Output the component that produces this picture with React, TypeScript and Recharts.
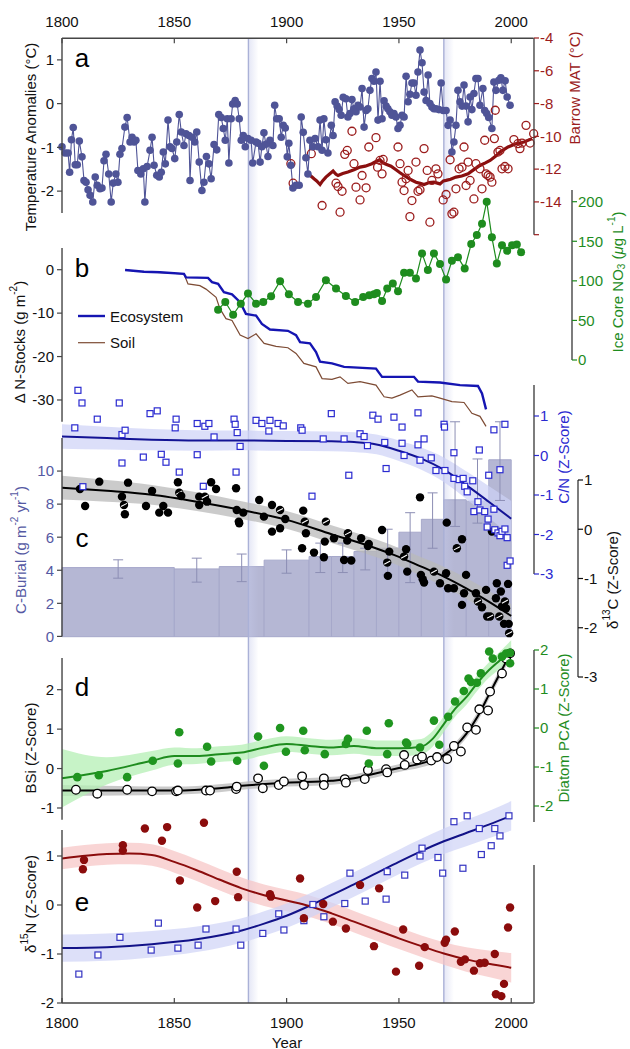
import React from 'react';
import {
  Area, ComposedChart, ErrorBar, Line, ReferenceArea, ReferenceLine, Scatter, XAxis, YAxis,
} from 'recharts';

const W = 630;
const H = 1049;
const FONT = '"Liberation Sans", Arial, Helvetica, sans-serif';

// ---------- data ----------
// (a) temperature anomalies, year / degC
const TEMP: [number, number][] = [
  [1800.0, -0.98], [1801.4, -1.12], [1802.7, -1.12], [1803.4, -1.56], [1804.2, -0.82], [1805.0, -0.54], [1805.9, -1.39], [1806.8, -1.39], [1807.7, -0.85], [1808.9, -1.21],
  [1809.8, -1.75], [1810.7, -1.79], [1811.6, -1.96], [1812.5, -2.09], [1813.7, -2.24], [1814.8, -1.67], [1815.7, -1.86], [1816.9, -1.94], [1817.8, -1.92], [1818.7, -1.3],
  [1819.6, -1.15], [1820.8, -1.6], [1821.9, -2.24], [1822.8, -1.81], [1824.0, -1.6], [1824.9, -1.79], [1825.8, -1.15], [1826.7, -1.02], [1828.0, -0.53], [1829.0, -0.31],
  [1830.3, -0.87], [1831.2, -0.76], [1832.1, -0.87], [1832.9, -0.83], [1833.8, -1.52], [1835.1, -1.6], [1836.2, -1.48], [1836.9, -2.24], [1837.9, -1.43], [1839.2, -1.06],
  [1840.1, -0.76], [1841.0, -1.4], [1842.2, -1.63], [1843.3, -1.67], [1844.2, -1.56], [1845.1, -1.1], [1846.0, -1.37], [1847.2, -0.37], [1848.1, -0.98], [1849.0, -1.02],
  [1850.2, -1.25], [1851.1, -0.87], [1852.2, -0.24], [1853.1, -0.64], [1854.3, -0.95], [1855.2, -0.68], [1856.5, -0.72], [1857.0, -1.75], [1857.9, -0.76], [1859.1, -0.87],
  [1860.0, -0.64], [1861.1, -1.33], [1862.3, -1.98], [1863.2, -1.79], [1864.3, -1.2], [1865.4, -1.37], [1866.4, -1.71], [1867.7, -0.93], [1868.9, -1.05], [1869.8, -0.24],
  [1870.9, -0.31], [1871.8, -0.56], [1872.7, -0.83], [1873.6, -0.34], [1874.3, -1.35], [1875.3, -0.34], [1876.0, 0], [1877.1, 0.08], [1878.0, 0], [1878.9, -0.34],
  [1879.8, -0.83], [1880.7, -0.72], [1881.6, -0.98], [1882.8, -0.79], [1884.2, -0.83], [1884.9, -1.35], [1886.4, -0.87], [1887.3, -0.9], [1888.2, -1.33], [1889.0, -0.98],
  [1889.9, -0.66], [1890.8, -0.92], [1891.7, -1.2], [1892.6, -0.83], [1893.9, -0.95], [1894.7, -0.03], [1895.6, -0.34], [1896.7, -0.34], [1897.6, -0.76], [1898.5, -0.49],
  [1899.4, -0.55], [1900.3, -1.21], [1901.0, -0.9], [1901.9, -1.4], [1902.8, -1.92], [1904.2, -1.86], [1905.6, -1.86], [1906.5, -0.3], [1907.4, -0.65], [1908.6, -1.23],
  [1909.5, -1.6], [1910.4, -0.83], [1911.7, -0.98], [1912.7, -0.79], [1914.0, -0.98], [1914.9, -0.37], [1915.8, -1.06], [1916.6, -0.34], [1917.5, -0.82], [1918.4, -1.12],
  [1919.9, -0.49], [1920.7, -0.72], [1921.6, 0.05], [1922.5, -0.05], [1923.4, -0.13], [1924.3, -0.26], [1925.2, 0.15], [1926.4, 0.12], [1927.3, -0.3], [1928.2, -0.22],
  [1929.1, 0.1], [1930.0, -0.11], [1930.9, -0.18], [1931.8, -0.03], [1932.7, -0.07], [1933.6, 0.35], [1934.5, -0.53], [1935.4, -0.15], [1936.2, -0.11], [1937.1, 0.31],
  [1938.0, 0.58], [1938.9, 0.52], [1939.8, 0.73], [1940.7, -0.37], [1941.6, 0.52], [1942.5, -0.34], [1943.4, 0.07], [1944.3, -0.05], [1945.1, -0.11], [1946.0, -0.18],
  [1946.9, -0.26], [1947.8, -0.22], [1948.7, -0.3], [1949.6, -0.56], [1950.5, -0.49], [1951.4, -0.26], [1952.3, -0.3], [1953.2, 0.63], [1954.1, 0.05], [1954.9, 0.22],
  [1955.8, 0.48], [1956.7, 0.48], [1957.6, 0.2], [1958.5, 0.73], [1959.4, 1.23], [1960.3, 0.94], [1961.2, 0.27], [1962.1, 0.08], [1963.0, 0.66], [1963.8, 0.01],
  [1964.7, -0.07], [1965.6, -0.11], [1966.5, -0.11], [1967.8, -0.13], [1968.8, 0.48], [1969.7, -0.15], [1971.0, -0.15], [1971.9, -0.49], [1972.8, -0.37], [1973.6, -1.1],
  [1974.5, -0.87], [1975.4, -0.49], [1976.3, 0.31], [1977.2, 0.05], [1978.1, -0.05], [1979.0, 0.43], [1979.9, -0.05], [1980.8, -0.41], [1981.7, 0.16], [1982.5, -0.13],
  [1983.4, 0.24], [1984.3, 0.58], [1985.2, 0.58], [1986.1, -0.03], [1987.4, 0.35], [1988.2, -0.15], [1989.1, -0.22], [1990.0, -0.31], [1991.4, -0.56], [1992.3, 0.5],
  [1993.2, 0.31], [1994.5, 0.54], [1995.4, 0.6], [1996.3, 0.31], [1997.3, 0.53], [1998.2, 0.16], [1999.5, -0.03],
];

// (a) Barrow mean annual temperature, single years and running mean
const BARROW: [number, number][] = [
  [1901.9, -11.65], [1902.9, -12.84], [1911.0, -11.04], [1915.8, -14.2], [1922.0, -12.84], [1922.9, -13.04], [1923.8, -14.61], [1924.7, -13.33], [1925.9, -11.08], [1927.0, -10.84],
  [1929.1, -9.67], [1930.0, -11.65], [1930.9, -13.08], [1932.7, -13.86], [1933.6, -12.37], [1935.4, -13.12], [1936.6, -10.63], [1939.8, -10.06], [1940.5, -11.86], [1941.6, -11.45],
  [1942.5, -12.27], [1943.0, -11.39], [1949.6, -10.63], [1950.5, -11.65], [1951.4, -12.78], [1952.3, -13.29], [1953.2, -12.57], [1954.1, -12.06], [1954.9, -14.88], [1955.8, -13.9],
  [1957.6, -11.55], [1958.5, -13.33], [1959.4, -13.24], [1961.2, -10.73], [1962.6, -12.06], [1963.8, -15.22], [1964.7, -12.67], [1966.5, -11.96], [1967.4, -12.27], [1969.7, -13.86],
  [1971.0, -13.53], [1972.8, -11.41], [1973.6, -14.71], [1974.5, -14.61], [1975.4, -13.18], [1976.8, -11.96], [1978.1, -11.86], [1979.0, -10.63], [1979.9, -12.98], [1980.8, -11.55],
  [1981.7, -12.67], [1983.4, -13.8], [1984.3, -11.65], [1986.1, -11.96], [1987.0, -13.18], [1988.2, -10.22], [1988.8, -12.27], [1989.7, -12.37], [1990.6, -12.47], [1991.4, -12.78],
  [1992.5, -10.12], [1992.9, -8.39], [1994.1, -10.94], [1995.0, -10.84], [1995.9, -11.96], [1997.2, -11.82], [1998.6, -11.96], [2001.2, -10.18], [2003.0, -10.43], [2003.9, -10.73],
  [2004.8, -10.39], [2006.6, -9.31], [2008.4, -10.39], [2010.0, -9.82],
];
const BARROW_MEAN: [number, number][] = [
  [1909.9, -12.31], [1911.2, -12.45], [1912.2, -12.57], [1913.4, -12.7], [1914.9, -12.92], [1916.0, -12.7], [1917.5, -12.47], [1919.0, -12.3], [1920.7, -12.1], [1922.0, -12.3],
  [1922.9, -12.37], [1925.0, -12.25], [1927.3, -12.16], [1930.0, -12.02], [1932.7, -11.86], [1935.0, -11.8], [1938.0, -11.65], [1940.0, -11.5], [1941.6, -11.41], [1943.0, -11.6],
  [1944.3, -11.69], [1946.5, -11.8], [1948.7, -12.02], [1950.5, -12.2], [1952.3, -12.37], [1955.0, -12.6], [1957.6, -12.78], [1959.5, -12.85], [1961.2, -12.92], [1963.5, -12.8],
  [1965.6, -12.78], [1968.3, -12.88], [1969.8, -12.7], [1971.0, -12.67], [1973.0, -12.6], [1975.4, -12.47], [1978.0, -12.4], [1980.8, -12.27], [1983.5, -12.0], [1986.1, -11.76],
  [1988.5, -11.6], [1990.6, -11.45], [1993.0, -11.2], [1995.0, -10.94], [1998.6, -10.63], [2002.1, -10.43], [2005.7, -10.33], [2009.3, -10.12],
];

// (b) cumulative N-stock change and ice core nitrate
const ECOSYSTEM: [number, number][] = [
  [1828.1, 0], [1836.5, -0.4], [1843.6, -0.5], [1854.3, -0.9], [1855.2, -1.7], [1865.0, -1.8], [1866.8, -2.8], [1869.5, -3.2], [1872.1, -5.1], [1875.7, -5.6],
  [1879.3, -7.4], [1881.9, -10.1], [1886.4, -10.5], [1889.0, -12.4], [1892.6, -13.7], [1900.6, -14.0], [1904.2, -15.0], [1906.0, -16.6], [1910.4, -16.9], [1913.1, -18.9],
  [1914.9, -21.1], [1920.2, -21.5], [1925.6, -22.3], [1939.8, -22.7], [1942.5, -24.6], [1956.7, -24.6], [1958.5, -25.7], [1968.3, -25.9], [1977.2, -26.5], [1985.2, -26.7],
  [1987.0, -28.4], [1988.8, -32.1],
];
const SOIL: [number, number][] = [
  [1828.1, 0], [1836.5, -0.4], [1854.3, -0.9], [1856.1, -3.2], [1861.4, -3.6], [1864.1, -4.4], [1868.6, -6.3], [1870.3, -8.9], [1873.0, -11.2], [1875.7, -11.6],
  [1879.3, -15.0], [1882.8, -15.8], [1886.4, -14.7], [1890.0, -16.9], [1895.3, -17.6], [1900.6, -17.9], [1904.2, -19.2], [1907.7, -21.5], [1913.1, -22.3], [1915.8, -25.0],
  [1920.2, -25.2], [1923.8, -24.6], [1927.3, -26.1], [1932.7, -25.7], [1939.8, -26.5], [1943.4, -29.2], [1946.9, -29.5], [1950.5, -28.8], [1955.8, -27.6], [1958.5, -29.2],
  [1964.7, -29.0], [1968.3, -29.5], [1973.6, -30.3], [1979.0, -30.5], [1982.5, -33.0], [1986.1, -33.7], [1988.8, -36.0],
];
const ICE_NO3: [number, number][] = [
  [1869.5, 63.6], [1872.7, 73.3], [1876.2, 57.2], [1879.6, 71.2], [1882.8, 83.9], [1886.4, 71.2], [1889.6, 73.3], [1893.1, 80.5], [1897.1, 99.6], [1901.0, 83],
  [1905.1, 73.3], [1909.5, 71.2], [1913.1, 79.7], [1917.5, 100.8], [1922.0, 90.3], [1926.4, 80.9], [1930.5, 73.3], [1934.1, 79.7], [1936.8, 81.8], [1938.9, 83],
  [1940.2, 84.7], [1942.5, 74.6], [1944.8, 90.3], [1947.3, 96.6], [1949.6, 86.9], [1952.3, 110.2], [1954.9, 110.2], [1957.6, 103], [1960.3, 134.7], [1962.9, 113.6],
  [1965.6, 134.7], [1968.3, 121.2], [1971.0, 101.7], [1973.6, 125.4], [1976.3, 129.7], [1979.3, 115.7], [1982.2, 146.6], [1984.7, 158], [1987.0, 172], [1989.1, 200],
  [1991.4, 155], [1993.6, 122], [1995.9, 145], [1998.2, 138], [2000.4, 145], [2002.5, 146], [2004.4, 136],
];

// (c) carbon burial by interval, with error range
const BURIAL_FROM = [1800, 1850, 1870, 1890, 1910, 1920, 1930, 1940, 1950, 1960, 1970, 1980, 1990];
const BURIAL_TO = [1850, 1870, 1890, 1910, 1920, 1930, 1940, 1950, 1960, 1970, 1980, 1990, 2000];
const BURIAL = [4.18, 4.1, 4.24, 4.63, 4.85, 4.85, 5.15, 5.35, 6.32, 7.1, 8.28, 8.2, 10.7];
const BURIAL_LO = [3.54, 3.3, 3.33, 3.84, 3.88, 3.88, 4.04, 3.74, 3.27, 5.35, 6.67, 6.87, 8.24];
const BURIAL_HI = [4.65, 4.75, 5.0, 5.25, 5.66, 5.66, 5.35, 6.5, 7.5, 8.7, 13.0, 10.75, 13.0];

// (c) C/N z-scores and fit
const CN: [number, number][] = [
  [1807.1, 1.65], [1808.9, 1.33], [1815.7, 0.92], [1805.7, 0.7], [1825.5, 1.33], [1826.7, 0.53], [1828.1, 0.64], [1839.2, 1.06], [1842.4, 1.13], [1850.8, 0.92],
  [1850.4, 0.7], [1860.2, 0.81], [1863.6, 0.74], [1865.4, 0.81], [1867.7, 0.47], [1876.6, 0.92], [1877.1, 0.79], [1878.0, 0.58], [1886.4, 0.89], [1889.0, 0.81],
  [1892.6, 0.89], [1892.1, 0.62], [1896.2, 0.81], [1898.5, 0.75], [1906.3, 0.7], [1906.9, 0.64], [1916.3, 0.42], [1919.9, 1.06], [1925.6, 0.42], [1932.7, 0.55],
  [1934.5, 0.48], [1938.4, 1.02], [1940.7, 0.92], [1947.8, 0.97], [1951.4, 0.72], [1958.5, 1.08], [1961.2, 0.42], [1970.1, 0.79], [1970.3, 0.72], [1992.3, 0.65],
  [1997.2, 0.79], [1809.3, -0.79], [1826.7, -0.19], [1836.2, -0.04], [1844.2, 0.03], [1846.3, -0.17], [1852.2, -0.42], [1860.2, 0.02], [1862.9, -0.78], [1877.5, -0.42],
  [1879.3, 0.23], [1911.3, -1.03], [1927.7, -0.5], [1936.0, 0.25], [1943.7, 0.33], [1944.3, -0.33], [1951.4, 0.31], [1952.3, 0.0], [1958.5, 0.27], [1959.4, -0.12],
  [1964.4, -0.06], [1966.5, -0.38], [1970.5, -0.38], [1974.5, 0.07], [1974.5, -0.58], [1976.8, -0.61], [1978.6, -0.58], [1979.3, -0.78], [1980.4, -0.92], [1982.9, -0.64],
  [1983.4, -1.42], [1985.2, -1.17], [1985.8, 0.14], [1986.1, -1.38], [1988.2, -1.42], [1989.7, -1.61], [1989.3, -1.81], [1990.0, -0.5], [1992.3, -1.36], [1992.7, -1.88],
  [1994.1, -1.96], [1995.0, -2.03], [1995.9, -1.92], [1997.2, -1.86], [1995.0, -0.36], [1998.2, -2.08], [1998.2, -2.78], [1999.5, -2.67],
];
const CN_FIT_X = [1800, 1820, 1840, 1860, 1880, 1900, 1920, 1930, 1940, 1950, 1960, 1970, 1980, 1990, 2000];
const CN_FIT = [0.48, 0.44, 0.4, 0.38, 0.38, 0.37, 0.36, 0.34, 0.28, 0.12, -0.08, -0.36, -0.75, -1.17, -1.6];
const CN_BAND = [0.31, 0.29, 0.27, 0.26, 0.25, 0.25, 0.25, 0.25, 0.25, 0.26, 0.28, 0.31, 0.35, 0.4, 0.45];

// (c) d13C z-scores and fit; HATCHED marks the half-filled symbols
const D13C: [number, number][] = [
  [1808.0, 0.817], [1810.3, 0.473], [1816.6, 0.966], [1826.7, 0.662], [1827.6, 0.493], [1828.0, 0.304], [1829.4, 0.946], [1837.4, 0.473], [1840.1, 0.777], [1843.3, 0.337],
  [1845.1, 0.473], [1847.2, 0.337], [1851.6, 0.953], [1852.2, 0.743], [1853.1, 0.675], [1861.1, 0.662], [1861.1, 0.493], [1863.6, 0.662], [1864.6, 0.56], [1866.4, 0.953],
  [1868.6, 0.817], [1877.5, 0.831], [1877.8, 0.391], [1878.7, 0.155], [1878.9, 0.121], [1880.7, 0.337], [1887.8, 0.594], [1889.9, 0.256], [1893.5, 0.493], [1893.5, -0.048],
  [1897.1, 0.391], [1897.1, 0.02], [1899.4, 0.209], [1906.9, -0.386], [1907.4, 0.378], [1908.1, 0.155], [1908.6, -0.082], [1912.2, -0.474], [1916.6, -0.569], [1917.0, -0.251],
  [1917.5, 0.155], [1921.1, -0.183], [1925.6, -0.623], [1927.0, -0.231], [1928.8, -0.636], [1927.3, -0.082], [1933.2, -0.183], [1936.2, -0.339], [1936.6, -0.298], [1942.5, -0.014],
  [1944.8, -0.677], [1945.1, -0.947], [1945.7, -0.454], [1952.3, -0.555], [1953.2, -0.406], [1953.7, -0.86], [1959.4, 0.648], [1959.8, -0.927], [1960.6, -1.015], [1961.2, -1.083],
  [1965.6, -0.86], [1968.3, -1.096], [1971.3, 0.134], [1971.0, -0.893], [1971.9, -1.197], [1974.5, -1.197], [1975.8, -0.386], [1978.1, -0.203], [1978.1, -1.536], [1979.0, -1.299],
  [1979.9, -0.927], [1984.3, -1.299], [1985.2, -1.468], [1987.0, -1.583], [1988.8, -1.231], [1991.4, -0.048], [1989.3, -1.772], [1990.6, -1.772], [1993.2, -1.4], [1993.6, -1.096],
  [1994.7, -1.772], [1995.4, -1.265], [1995.9, -1.569], [1996.8, -1.921], [1997.2, -1.468], [1997.7, -1.603], [1998.6, -1.11], [1998.9, -1.921], [1999.1, -2.11],
];
const HATCHED = [4, 13, 17, 30, 35, 40, 45, 50, 53, 60, 66, 72, 77, 80, 84, 88];
const D13C_FIT_X = [1800, 1820, 1840, 1860, 1880, 1900, 1920, 1940, 1950, 1960, 1970, 1980, 1990, 2000];
const D13C_FIT = [0.844, 0.78, 0.7, 0.56, 0.39, 0.19, -0.1, -0.39, -0.56, -0.76, -0.96, -1.2, -1.47, -1.76];
const D13C_BAND = [0.24, 0.22, 0.2, 0.19, 0.18, 0.18, 0.18, 0.18, 0.18, 0.19, 0.2, 0.21, 0.22, 0.24];

// (d) biogenic silica and diatom PCA
const BSI: [number, number][] = [
  [1806.2, -0.53], [1815.7, -0.63], [1829.0, -0.53], [1840.1, -0.57], [1850.8, -0.57], [1851.6, -0.55], [1864.1, -0.55], [1865.9, -0.55], [1877.5, -0.51], [1877.8, -0.45],
  [1887.3, -0.24], [1889.4, -0.49], [1896.5, -0.41], [1898.8, -0.32], [1906.9, -0.19], [1907.7, -0.41], [1916.6, -0.24], [1916.6, -0.41], [1925.9, -0.26], [1926.4, -0.35],
  [1934.8, -0.26], [1936.2, -0.03], [1944.3, -0.01], [1944.8, -0.09], [1952.6, 0.1], [1952.3, 0.35], [1958.1, 0.24], [1960.3, 0.31], [1964.4, 0.21], [1967.0, 0.3],
  [1971.5, 0.25], [1974.5, 0.58], [1977.6, 0.44], [1980.4, 1.05], [1984.3, 0.99], [1985.8, 1.51], [1989.7, 1.48], [1990.6, 1.96], [1995.9, 2.42], [1997.7, 2.8],
  [1999.5, 2.93],
];
const BSI_FIT_X = [1800, 1850, 1870, 1880, 1900, 1920, 1930, 1940, 1950, 1960, 1970, 1975, 1980, 1985, 1990, 1995, 2000];
const BSI_FIT = [-0.55, -0.55, -0.49, -0.43, -0.35, -0.3, -0.24, -0.11, 0.02, 0.14, 0.35, 0.57, 0.89, 1.32, 1.87, 2.42, 2.97];
const BSI_BAND = [0.14, 0.1, 0.1, 0.1, 0.1, 0.1, 0.1, 0.1, 0.1, 0.1, 0.1, 0.1, 0.11, 0.12, 0.12, 0.12, 0.12];

const DIATOM: [number, number][] = [
  [1806.8, -1.26], [1816.4, -1.21], [1829.0, -1.26], [1840.4, -0.84], [1851.6, -0.91], [1852.2, -0.11], [1864.6, -0.48], [1866.4, -0.86], [1878.0, -0.84], [1887.3, -0.22],
  [1889.9, -0.97], [1897.1, 0], [1899.7, -0.61], [1907.4, -0.07], [1908.1, -0.57], [1917.0, -0.67], [1926.4, -0.41], [1927.3, -0.28], [1935.7, -0.07], [1936.6, -0.91],
  [1944.8, -0.67], [1945.5, 0.12], [1953.2, -0.37], [1953.7, -0.41], [1959.4, -0.5], [1965.6, 0.19], [1968.0, -0.43], [1971.9, 0.29], [1975.0, 0.68], [1978.9, 0.95],
  [1981.0, 1.27], [1982.1, 1.18], [1984.7, 1.16], [1986.5, 1.4], [1990.2, 1.96], [1991.8, 1.78], [1995.9, 1.83], [1997.7, 1.91], [1999.5, 1.93], [1999.5, 1.66],
];
const DIATOM_FIT_X = [1800, 1820, 1840, 1850, 1860, 1870, 1880, 1890, 1900, 1910, 1920, 1930, 1940, 1950, 1960, 1965, 1970, 1975, 1980, 1985, 1990, 1995, 2000];
const DIATOM_FIT = [-1.29, -1.1, -0.84, -0.72, -0.72, -0.67, -0.63, -0.5, -0.41, -0.46, -0.5, -0.46, -0.52, -0.52, -0.48, -0.28, 0.1, 0.49, 0.79, 1.16, 1.48, 1.74, 2.0];
const DIATOM_BAND = [0.75, 0.35, 0.25, 0.22, 0.2, 0.2, 0.2, 0.2, 0.2, 0.2, 0.2, 0.2, 0.2, 0.2, 0.2, 0.2, 0.2, 0.2, 0.2, 0.2, 0.2, 0.22, 0.25];

// (e) d15N, two records
const D15N_RED: [number, number][] = [
  [1809.8, 0.92], [1809.3, 0.73], [1827.1, 1.22], [1827.1, 1.11], [1836.9, 1.56], [1844.5, 1.31], [1846.8, 1.59], [1852.5, 0.5], [1860.2, -0.05], [1863.2, 1.68],
  [1868.2, 0.08], [1877.8, 0.68], [1878.4, 0.16], [1892.6, 0.22], [1893.0, 0.17], [1906.0, 0.54], [1907.7, -0.27], [1916.3, 0.02], [1920.6, -0.34], [1926.4, -0.48],
  [1932.7, 0.41], [1941.2, 0.34], [1938.9, -0.84], [1948.7, -1.36], [1951.9, -0.5], [1959.0, -1.24], [1961.5, -0.86], [1970.4, -0.77], [1971.0, -0.71], [1974.9, -0.54],
  [1977.6, -1.16], [1979.4, -1.11], [1983.4, -1.34], [1986.1, -1.19], [1988.2, -1.18], [1992.7, -1.0], [1993.2, -1.82], [1995.6, -1.86], [1996.8, -1.61], [1998.6, -0.46],
  [1999.5, -0.05],
];
const D15N_RED_FIT_X = [1800, 1820, 1830, 1840, 1850, 1860, 1870, 1880, 1890, 1900, 1910, 1920, 1930, 1940, 1950, 1960, 1970, 1980, 1990, 2000];
const D15N_RED_FIT = [0.95, 1.04, 1.05, 1.02, 0.88, 0.71, 0.52, 0.34, 0.2, 0.09, -0.02, -0.17, -0.34, -0.51, -0.68, -0.84, -0.99, -1.11, -1.2, -1.28];
const D15N_RED_BAND = [0.22, 0.22, 0.22, 0.22, 0.22, 0.22, 0.22, 0.22, 0.22, 0.22, 0.22, 0.22, 0.22, 0.22, 0.22, 0.22, 0.23, 0.25, 0.27, 0.3];

const D15N_BLUE: [number, number][] = [
  [1807.5, -1.41], [1816.0, -1.02], [1825.8, -0.66], [1839.7, -0.92], [1842.9, -0.37], [1851.6, -0.88], [1860.6, -0.82], [1864.1, -0.49], [1877.5, -0.49], [1879.6, -0.82],
  [1889.4, -0.58], [1896.5, -0.18], [1898.8, -0.51], [1907.7, -0.32], [1911.7, 0.01], [1916.6, -0.24], [1925.9, 0.03], [1928.2, 0.65], [1935.0, 0.08], [1944.3, 0.12],
  [1944.8, 0.68], [1952.6, 0.61], [1959.4, 1.0], [1960.3, 1.16], [1967.4, 0.97], [1969.5, 0.65], [1974.5, 1.7], [1978.5, 0.75], [1980.4, 1.82], [1985.8, 1.56],
  [1986.7, 1.03], [1991.1, 1.21], [1992.7, 1.56], [1995.0, 1.41], [1999.0, 1.82],
];
const D15N_BLUE_FIT_X = [1800, 1820, 1840, 1860, 1880, 1890, 1900, 1910, 1920, 1930, 1940, 1950, 1960, 1970, 1980, 1990, 2000];
const D15N_BLUE_FIT = [-0.88, -0.86, -0.8, -0.7, -0.52, -0.38, -0.22, -0.02, 0.2, 0.42, 0.65, 0.88, 1.1, 1.3, 1.47, 1.64, 1.82];
const D15N_BLUE_BAND = [0.28, 0.28, 0.27, 0.26, 0.25, 0.25, 0.25, 0.25, 0.25, 0.25, 0.25, 0.25, 0.25, 0.26, 0.27, 0.28, 0.3];

const YEAR_TICKS = [1800, 1850, 1900, 1950, 2000];
const EVENTS = [1883, 1970];

// ---------- layout: value <-> pixel calibration of each axis ----------
type Cal = [number, number, number, number]; // value1, pixel1, value2, pixel2
const at = (c: Cal, p: number) => c[0] + ((p - c[1]) * (c[2] - c[0])) / (c[3] - c[1]);
const span = (c: Cal, a: number, b: number): [number, number] => {
  const u = at(c, a);
  const v = at(c, b);
  return [Math.min(u, v), Math.max(u, v)];
};

const CAL_X: Cal = [1800, 62, 2000, 511.2];
const X_LEFT = 62;
const X_RIGHT = 533.7;
const FRAME_TOP = 38.3;
const FRAME_BOTTOM = 1003;
const CAL: Record<string, Cal> = {
  temp: [1.5, 38.3, -2.5, 213.3],
  barrow: [-4, 38.3, -16, 235],
  nstock: [5, 248.3, -35, 422],
  ice: [200, 201.7, 0, 360],
  burial: [12, 438.3, 0, 636.7],
  cn: [1, 416, -3, 574],
  d13c: [1, 480, -3, 677],
  bsi: [2, 690, -1, 808.3],
  diatom: [2, 650, -2, 806],
  d15n: [1, 856, -2, 1003],
};

const C = {
  temp: '#4f5497',
  barrow: '#9b1c1c',
  barrowMean: '#8a0f0f',
  eco: '#1515b2',
  soil: '#7d4b34',
  ice: '#1e8c1e',
  bar: '#b5b7d4',
  barEdge: '#a6a8ca',
  burialText: '#5559a3',
  cn: '#2a2ad0',
  cnLine: '#131394',
  green: '#1f951f',
  red: '#8b0c0c',
  blueLine: '#121288',
  axis: '#454545',
};

const xy = (a: [number, number][]) => a.map(([x, y]) => ({ x, y }));
const fitLine = (xs: number[], f: number[]) => xs.map((x, i) => ({ x, y: f[i] }));
const band = (xs: number[], f: number[], hw: number[]) => xs.map((x, i) => ({ x, y: [f[i] - hw[i], f[i] + hw[i]] }));

const FRAME = [{ x: 1800 }, { x: 2010 }];

// ---------- marker shapes ----------
const openCircle = (stroke: string, fill = 'none', r = 4) => (p: any) => (
  <circle cx={p.cx} cy={p.cy} r={r} fill={fill} stroke={stroke} strokeWidth={1.3} />
);
const dotShape = (fill: string, r = 4) => (p: any) => <circle cx={p.cx} cy={p.cy} r={r} fill={fill} />;
const hatchDot = (p: any) => (
  <g>
    <circle cx={p.cx} cy={p.cy} r={4.2} fill="#000" />
    {p.payload.hatched ? (
      <line x1={p.cx - 3} y1={p.cy + 1.6} x2={p.cx + 3} y2={p.cy - 1.6} stroke="#fff" strokeWidth={1.1} />
    ) : null}
  </g>
);
const squareShape = (stroke: string) => (p: any) => (
  <rect x={p.cx - 3} y={p.cy - 3} width={6} height={6} fill="#fff" stroke={stroke} strokeWidth={1.2} />
);

// ---------- axis strips ----------
type StripProps = {
  x: number; side: 'left' | 'right'; top: number; bottom: number; cal?: Cal;
  ticks?: number[]; color?: string; blank?: number;
};
function AxisStrip({ x, side, top, bottom, cal, ticks, color = '#111', blank }: StripProps) {
  const h = bottom - top;
  const domain = cal ? span(cal, top, bottom) : [0, 1];
  return (
    <div style={{ position: 'absolute', left: 0, top }}>
      <ComposedChart width={W} height={h} margin={{ top: 0, right: 0, bottom: 0, left: 0 }} data={FRAME}>
        <XAxis dataKey="x" type="number" domain={[1800, 2010]} hide />
        <YAxis
          orientation={side}
          width={side === 'left' ? x : W - x}
          type="number"
          domain={domain}
          allowDataOverflow
          ticks={ticks ?? []}
          interval={0}
          axisLine={{ stroke: C.axis, strokeWidth: 1.4 }}
          tickLine={ticks ? { stroke: side === 'left' ? C.axis : color, strokeWidth: 1.2 } : false}
          tick={ticks ? { fill: color, fontSize: 15, fontFamily: FONT } : false}
          tickFormatter={(v: number) => (v === blank ? '' : String(v))}
          tickSize={5}
          tickMargin={side === 'left' ? 3 : 1}
        />
      </ComposedChart>
    </div>
  );
}

function YearTick(props: any) {
  const { x, payload, axisY, dir, labelY } = props;
  return (
    <g>
      <line x1={x} x2={x} y1={axisY} y2={axisY + dir * 5} stroke={C.axis} strokeWidth={1.2} />
      <text x={x} y={labelY} textAnchor="middle" dominantBaseline="central" fontSize={15} fontFamily={FONT} fill="#111">
        {payload.value}
      </text>
    </g>
  );
}

function YearStrip({ top, height, axisH, orientation, dir, labelY }: any) {
  return (
    <div style={{ position: 'absolute', left: 0, top }}>
      <ComposedChart width={W} height={height} margin={{ top: 0, right: W - X_RIGHT, bottom: 0, left: X_LEFT }} data={FRAME}>
        <XAxis
          orientation={orientation}
          height={axisH}
          dataKey="x"
          type="number"
          domain={[1800, 2010]}
          ticks={YEAR_TICKS}
          interval={0}
          axisLine={{ stroke: C.axis, strokeWidth: 1.4 }}
          tickLine={false}
          tick={<YearTick axisY={orientation === 'top' ? axisH : height - axisH} dir={dir} labelY={labelY} />}
        />
        <YAxis hide domain={[0, 1]} />
      </ComposedChart>
    </div>
  );
}

function VTitle({ x, y, color = '#111', children }: any) {
  return (
    <text transform={`translate(${x},${y}) rotate(-90)`} textAnchor="middle" dominantBaseline="central" fill={color} fontSize={15} fontFamily={FONT}>
      {children}
    </text>
  );
}

export default function App() {
  const XD = span(CAL_X, 0, W);
  const yAxes = Object.entries(CAL).map(([id, cal]) => (
    <YAxis key={id} yAxisId={id} type="number" domain={span(cal, H, 0)} allowDataOverflow hide />
  ));
  const errData = BURIAL.map((v, i) => ({
    x: (BURIAL_FROM[i] + BURIAL_TO[i]) / 2,
    y: v,
    err: [v - BURIAL_LO[i], BURIAL_HI[i] - v],
  }));
  const d13c = D13C.map(([x, y], i) => ({ x, y, hatched: HATCHED.includes(i) }));
  const frameTop = at(CAL.temp, FRAME_TOP);
  const frameBottom = at(CAL.temp, FRAME_BOTTOM);

  return (
    <div style={{ position: 'relative', width: W, height: H, background: '#fff', fontFamily: FONT }}>
      <style>{'body{margin:0} .recharts-surface{overflow:visible}'}</style>
      <svg width={0} height={0} style={{ position: 'absolute' }}>
        <defs>
          <linearGradient id="glow" x1="0" y1="0" x2="1" y2="0">
            <stop offset="0%" stopColor="#c4c9ea" stopOpacity={0.45} />
            <stop offset="100%" stopColor="#c4c9ea" stopOpacity={0} />
          </linearGradient>
        </defs>
      </svg>

      {/* c: carbon burial bars, then the two highlighted years */}
      <div style={{ position: 'absolute', left: 0, top: 0 }}>
        <ComposedChart width={W} height={H} margin={{ top: 0, right: 0, bottom: 0, left: 0 }}>
          <XAxis dataKey="x" type="number" domain={XD} allowDataOverflow hide />
          {yAxes}
          {BURIAL.map((v, i) => (
            <ReferenceArea
              key={i}
              yAxisId="burial"
              x1={BURIAL_FROM[i]}
              x2={BURIAL_TO[i]}
              y1={0}
              y2={v}
              fill={C.bar}
              fillOpacity={1}
              stroke={C.barEdge}
              strokeWidth={1}
              ifOverflow="visible"
            />
          ))}
          {EVENTS.map((e) => (
            <ReferenceArea
              key={`g${e}`}
              yAxisId="temp"
              x1={e}
              x2={e + 4.5}
              y1={frameBottom}
              y2={frameTop}
              fill="url(#glow)"
              fillOpacity={1}
              stroke="none"
              ifOverflow="visible"
            />
          ))}
          {EVENTS.map((e) => (
            <ReferenceLine
              key={`l${e}`}
              yAxisId="temp"
              segment={[{ x: e, y: frameTop }, { x: e, y: frameBottom }]}
              stroke="#aab1d7"
              strokeWidth={1.4}
              ifOverflow="visible"
            />
          ))}
        </ComposedChart>
      </div>

      {/* all series */}
      <div style={{ position: 'absolute', left: 0, top: 0 }}>
        <ComposedChart width={W} height={H} margin={{ top: 0, right: 0, bottom: 0, left: 0 }}>
          <XAxis dataKey="x" type="number" domain={XD} allowDataOverflow hide />
          {yAxes}

          {/* bands */}
          <Area yAxisId="d13c" data={band(D13C_FIT_X, D13C_FIT, D13C_BAND)} dataKey="y" type="monotone" stroke="none" fill="#b9b9b9" fillOpacity={0.75} isAnimationActive={false} />
          <Area yAxisId="cn" data={band(CN_FIT_X, CN_FIT, CN_BAND)} dataKey="y" type="monotone" stroke="none" fill="#cdd1f7" fillOpacity={0.7} isAnimationActive={false} />
          <Area yAxisId="bsi" data={band(BSI_FIT_X, BSI_FIT, BSI_BAND)} dataKey="y" type="monotone" stroke="none" fill="#bdbdbd" fillOpacity={0.8} isAnimationActive={false} />
          <Area yAxisId="diatom" data={band(DIATOM_FIT_X, DIATOM_FIT, DIATOM_BAND)} dataKey="y" type="monotone" stroke="none" fill="#b4efb4" fillOpacity={0.75} isAnimationActive={false} />
          <Area yAxisId="d15n" data={band(D15N_RED_FIT_X, D15N_RED_FIT, D15N_RED_BAND)} dataKey="y" type="monotone" stroke="none" fill="#f7c3c3" fillOpacity={0.7} isAnimationActive={false} />
          <Area yAxisId="d15n" data={band(D15N_BLUE_FIT_X, D15N_BLUE_FIT, D15N_BLUE_BAND)} dataKey="y" type="monotone" stroke="none" fill="#cfd3f6" fillOpacity={0.7} isAnimationActive={false} />

          {/* c: error bars on the burial intervals */}
          <Scatter yAxisId="burial" data={errData} dataKey="y" shape={() => <g />} isAnimationActive={false}>
            <ErrorBar dataKey="err" direction="y" width={5} stroke="#8c8eb4" strokeWidth={1} isAnimationActive={false} />
          </Scatter>

          {/* a */}
          <Scatter yAxisId="barrow" data={xy(BARROW)} dataKey="y" shape={openCircle(C.barrow)} isAnimationActive={false} />
          <Line yAxisId="temp" data={xy(TEMP)} dataKey="y" stroke={C.temp} strokeWidth={1.1} dot={{ r: 3.8, fill: C.temp, stroke: 'none' }} isAnimationActive={false} />
          <Line yAxisId="barrow" data={xy(BARROW_MEAN)} dataKey="y" stroke={C.barrowMean} strokeWidth={3.2} dot={false} isAnimationActive={false} />

          {/* b */}
          <Line yAxisId="nstock" data={xy(SOIL)} dataKey="y" stroke={C.soil} strokeWidth={1.2} dot={false} isAnimationActive={false} />
          <Line yAxisId="nstock" data={xy(ECOSYSTEM)} dataKey="y" stroke={C.eco} strokeWidth={2.4} dot={false} isAnimationActive={false} />
          <Line yAxisId="ice" data={xy(ICE_NO3)} dataKey="y" stroke={C.ice} strokeWidth={1.2} dot={{ r: 4, fill: C.ice, stroke: 'none' }} isAnimationActive={false} />

          {/* c */}
          <Line yAxisId="d13c" data={fitLine(D13C_FIT_X, D13C_FIT)} dataKey="y" type="monotone" stroke="#000" strokeWidth={2} dot={false} isAnimationActive={false} />
          <Line yAxisId="cn" data={fitLine(CN_FIT_X, CN_FIT)} dataKey="y" type="monotone" stroke={C.cnLine} strokeWidth={2} dot={false} isAnimationActive={false} />
          <Scatter yAxisId="d13c" data={d13c} dataKey="y" shape={hatchDot} isAnimationActive={false} />
          <Scatter yAxisId="cn" data={xy(CN)} dataKey="y" shape={squareShape(C.cn)} isAnimationActive={false} />

          {/* d */}
          <Line yAxisId="bsi" data={fitLine(BSI_FIT_X, BSI_FIT)} dataKey="y" type="monotone" stroke="#000" strokeWidth={2} dot={false} isAnimationActive={false} />
          <Line yAxisId="diatom" data={fitLine(DIATOM_FIT_X, DIATOM_FIT)} dataKey="y" type="monotone" stroke={C.ice} strokeWidth={2} dot={false} isAnimationActive={false} />
          <Scatter yAxisId="bsi" data={xy(BSI)} dataKey="y" shape={openCircle('#000', '#fff', 4.3)} isAnimationActive={false} />
          <Scatter yAxisId="diatom" data={xy(DIATOM)} dataKey="y" shape={dotShape(C.green, 4.3)} isAnimationActive={false} />

          {/* e */}
          <Line yAxisId="d15n" data={fitLine(D15N_BLUE_FIT_X, D15N_BLUE_FIT)} dataKey="y" type="monotone" stroke={C.blueLine} strokeWidth={2} dot={false} isAnimationActive={false} />
          <Line yAxisId="d15n" data={fitLine(D15N_RED_FIT_X, D15N_RED_FIT)} dataKey="y" type="monotone" stroke={C.red} strokeWidth={2} dot={false} isAnimationActive={false} />
          <Scatter yAxisId="d15n" data={xy(D15N_BLUE)} dataKey="y" shape={squareShape('#3434c2')} isAnimationActive={false} />
          <Scatter yAxisId="d15n" data={xy(D15N_RED)} dataKey="y" shape={dotShape(C.red, 4.2)} isAnimationActive={false} />
        </ComposedChart>
      </div>

      {/* axes */}
      <YearStrip top={0} height={50} axisH={38.3} orientation="top" dir={1} labelY={21.7} />
      <YearStrip top={993} height={56} axisH={46} orientation="bottom" dir={-1} labelY={29} />
      <AxisStrip x={X_LEFT} side="left" top={38.3} bottom={213.3} cal={CAL.temp} ticks={[-2, -1, 0, 1]} />
      <AxisStrip x={534} side="right" top={38.3} bottom={235} cal={CAL.barrow} ticks={[-16, -14, -12, -10, -8, -6, -4]} color={C.barrow} blank={-16} />
      <AxisStrip x={X_LEFT} side="left" top={248.3} bottom={422} cal={CAL.nstock} ticks={[-30, -20, -10, 0]} />
      <AxisStrip x={572} side="right" top={190} bottom={360} cal={CAL.ice} ticks={[0, 50, 100, 150, 200]} color={C.ice} />
      <AxisStrip x={534} side="right" top={385} bottom={574} cal={CAL.cn} ticks={[-3, -2, -1, 0, 1]} color={C.cn} />
      <AxisStrip x={X_LEFT} side="left" top={438.3} bottom={636.7} cal={CAL.burial} ticks={[0, 2, 4, 6, 8, 10]} color={C.burialText} />
      <AxisStrip x={578} side="right" top={480} bottom={677} cal={CAL.d13c} ticks={[-3, -2, -1, 0, 1]} />
      <AxisStrip x={X_LEFT} side="left" top={658.3} bottom={820} cal={CAL.bsi} ticks={[-1, 0, 1, 2]} />
      <AxisStrip x={534} side="right" top={650} bottom={822} cal={CAL.diatom} ticks={[-2, -1, 0, 1, 2]} color={C.ice} />
      <AxisStrip x={X_LEFT} side="left" top={830} bottom={1003} cal={CAL.d15n} ticks={[-2, -1, 0, 1]} />
      <AxisStrip x={534} side="right" top={865} bottom={1003} />

      {/* titles, panel letters, legend */}
      <svg width={W} height={H} style={{ position: 'absolute', left: 0, top: 0, pointerEvents: 'none' }} fontFamily={FONT}>
        <VTitle x={30} y={137}>Temperature Anomalies (°C)</VTitle>
        <VTitle x={19} y={342}>Δ N-Stocks (g m<tspan dy={-6} fontSize={10}>-2</tspan><tspan dy={6}>)</tspan></VTitle>
        <VTitle x={20} y={550} color={C.burialText}>C-Burial (g m<tspan dy={-6} fontSize={10}>-2</tspan><tspan dy={6}> yr</tspan><tspan dy={-6} fontSize={10}>-1</tspan><tspan dy={6}>)</tspan></VTitle>
        <VTitle x={30} y={748}>BSi (Z-Score)</VTitle>
        <VTitle x={30} y={904}>δ<tspan dy={-6} fontSize={10}>15</tspan><tspan dy={6}>N (Z-Score)</tspan></VTitle>
        <VTitle x={574} y={88} color={C.barrow}>Barrow MAT (°C)</VTitle>
        <VTitle x={617} y={282} color={C.ice}>Ice Core NO<tspan dy={4} fontSize={10}>3</tspan><tspan dy={-4}> (</tspan><tspan fontStyle="italic">μ</tspan>g L<tspan dy={-6} fontSize={10}>-1</tspan><tspan dy={6}>)</tspan></VTitle>
        <VTitle x={563} y={457} color={C.cn}>C/N (Z-Score)</VTitle>
        <VTitle x={612} y={580}>δ<tspan dy={-6} fontSize={10}>13</tspan><tspan dy={6}>C (Z-Score)</tspan></VTitle>
        <VTitle x={563} y={728} color={C.ice}>Diatom PCA (Z-Score)</VTitle>
        <text x={287} y={1042} textAnchor="middle" dominantBaseline="central" fontSize={15} fill="#111">Year</text>

        {[['a', 58], ['b', 268], ['c', 538], ['d', 687], ['e', 902]].map(([l, y]) => (
          <text key={l as string} x={82} y={y as number} textAnchor="middle" dominantBaseline="central" fontSize={26} fill="#000">{l}</text>
        ))}

        <line x1={78} x2={105} y1={316} y2={316} stroke={C.eco} strokeWidth={2.4} />
        <text x={110} y={316} dominantBaseline="central" fontSize={15} fill="#111">Ecosystem</text>
        <line x1={78} x2={105} y1={342.7} y2={342.7} stroke={C.soil} strokeWidth={1.2} />
        <text x={110} y={342.7} dominantBaseline="central" fontSize={15} fill="#111">Soil</text>
      </svg>
    </div>
  );
}
